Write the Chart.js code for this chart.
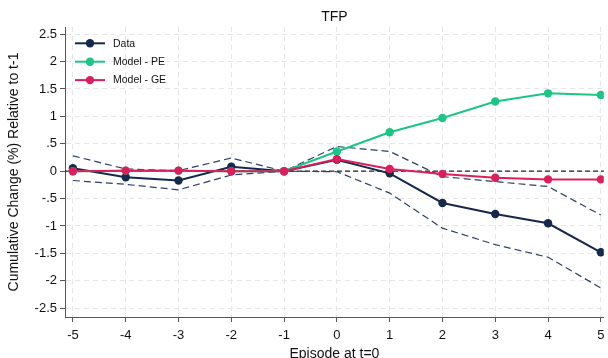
<!DOCTYPE html>
<html><head><meta charset="utf-8">
<script src="https://cdn.jsdelivr.net/npm/chart.js@4/dist/chart.umd.min.js"></script>
<style>html,body{margin:0;padding:0;background:#fff;overflow:hidden}#wrap{width:608px;height:358px;position:relative}</style>
</head><body><div id="wrap"><canvas id="c"></canvas></div>
<script>
const episodes = [-5,-4,-3,-2,-1,0,1,2,3,4,5];
const dataSeries = [0.055,-0.11,-0.17,0.08,0,0.21,-0.04,-0.58,-0.78,-0.95,-1.48];
const dataUpper  = [0.28,0.04,0.01,0.24,0,0.45,0.36,-0.10,-0.19,-0.28,-0.80];
const dataLower  = [-0.17,-0.24,-0.34,-0.07,0,-0.01,-0.40,-1.04,-1.34,-1.57,-2.13];
const modelPE    = [0,0.01,0.01,0,0,0.36,0.71,0.97,1.27,1.42,1.39];
const modelGE    = [0,0.01,0.01,0,0,0.22,0.04,-0.05,-0.12,-0.15,-0.15];
const yTickValues = [2.5,2,1.5,1,0.5,0,-0.5,-1,-1.5,-2,-2.5];
const yTickLabels = ['2.5','2','1.5','1','.5','0','-.5','-1','-1.5','-2','-2.5'];
const xTickLabels = ['-5','-4','-3','-2','-1','0','1','2','3','4','5'];
const refLine = 0;
const seriesNames = ['Data','Model - PE','Model - GE'];

const NAVY='#15294d', GREEN='#1cc584', PINK='#dc1f5b', BAND='#2c4068';
const FONT='"Liberation Sans", Arial, Helvetica, sans-serif';
const pts = arr => episodes.map((x,i)=>({x, y: arr[i]}));

const line = (label, arr, color, order) => ({
  label, data: pts(arr), borderColor: color, backgroundColor: color,
  borderWidth: 2, pointRadius: 4.2, pointHoverRadius: 4.2, pointBorderWidth: 0,
  tension: 0, order, legend: true
});
const band = (label, arr) => ({
  label, data: pts(arr), borderColor: BAND, borderWidth: 1.2, borderDash: [7,4],
  pointRadius: 0, tension: 0, order: 5, legend: false
});

const refPlugin = {
  id: 'ref',
  beforeDatasetsDraw(chart){
    const {ctx, chartArea:a, scales:{y}} = chart;
    const py = y.getPixelForValue(refLine);
    ctx.save(); ctx.strokeStyle='#222'; ctx.lineWidth=1.3; ctx.setLineDash([5,3]);
    ctx.beginPath(); ctx.moveTo(a.left, py); ctx.lineTo(a.right, py); ctx.stroke(); ctx.restore();
  }
};
const legendPlugin = {
  id: 'inlegend',
  afterDatasetsDraw(chart){
    const {ctx, chartArea:a} = chart;
    const items = chart.data.datasets.filter(d=>d.legend);
    ctx.save();
    items.forEach((d,i)=>{
      const y = a.top + 16.3 + i*18.4;
      const x0 = a.left + 10;
      ctx.strokeStyle = d.borderColor; ctx.lineWidth = 2; ctx.setLineDash([]);
      ctx.beginPath(); ctx.moveTo(x0, y); ctx.lineTo(x0+30, y); ctx.stroke();
      ctx.fillStyle = d.borderColor; ctx.beginPath(); ctx.arc(x0+15, y, 4.2, 0, Math.PI*2); ctx.fill();
      ctx.fillStyle = '#111'; ctx.font = '10.5px ' + FONT; ctx.textBaseline='middle'; ctx.textAlign='left';
      ctx.fillText(d.label, x0+38, y+0.5);
    });
    ctx.restore();
  }
};

new Chart(document.getElementById('c'), {
  type: 'line',
  data: { datasets: [
    line(seriesNames[0], dataSeries, NAVY, 2),
    line(seriesNames[1], modelPE, GREEN, 1),
    line(seriesNames[2], modelGE, PINK, 0),
    band('Upper', dataUpper),
    band('Lower', dataLower)
  ]},
  options: {
    responsive: true, maintainAspectRatio: false, animation: false, events: [],
    layout: { padding: 0 },
    plugins: {
      legend: { display: false }, tooltip: { enabled: false },
      title: { display: true, text: 'TFP', fullSize: false, color: '#111',
        font: { family: FONT, size: 14, weight: 'normal' }, padding: { top: 8.5, bottom: 1.7 } }
    },
    scales: {
      x: {
        type: 'linear', min: -5.15, max: 5.056,
        afterBuildTicks: s => { s.ticks = episodes.map(v=>({value:v})); },
        afterFit: s => { s.height = 41; s.paddingLeft = 0; s.paddingRight = 0; },
        ticks: { autoSkip: false, maxRotation: 0, padding: 5.5, color: '#111',
          font: { family: FONT, size: 13 },
          callback: v => xTickLabels[episodes.indexOf(v)] },
        grid: { color: '#e6e6e6', lineWidth: 1, tickColor: '#555', tickLength: 5, tickWidth: 1 },
        border: { display: true, color: '#555', width: 1, dash: [5,4] },
        title: { display: true, text: 'Episode at t=0', color: '#111',
          font: { family: FONT, size: 14 }, padding: { top: 0, bottom: -4.5 } }
      },
      y: {
        min: -2.66, max: 2.63,
        afterBuildTicks: s => { s.ticks = yTickValues.slice().reverse().map(v=>({value:v})); },
        afterFit: s => { s.width = 65; s.paddingTop = 0; s.paddingBottom = 0; },
        ticks: { autoSkip: false, padding: 3, color: '#111',
          font: { family: FONT, size: 13 },
          callback: v => yTickLabels[yTickValues.indexOf(v)] },
        grid: { color: '#e6e6e6', lineWidth: 1, tickColor: '#555', tickLength: 5, tickWidth: 1 },
        border: { display: true, color: '#555', width: 1, dash: [5,4] },
        title: { display: true, text: 'Cumulative Change (%) Relative to t-1', color: '#111',
          font: { family: FONT, size: 14 }, padding: { top: 5.5, bottom: 0 } }
      }
    }
  },
  plugins: [refPlugin, legendPlugin]
});
</script></body></html>
